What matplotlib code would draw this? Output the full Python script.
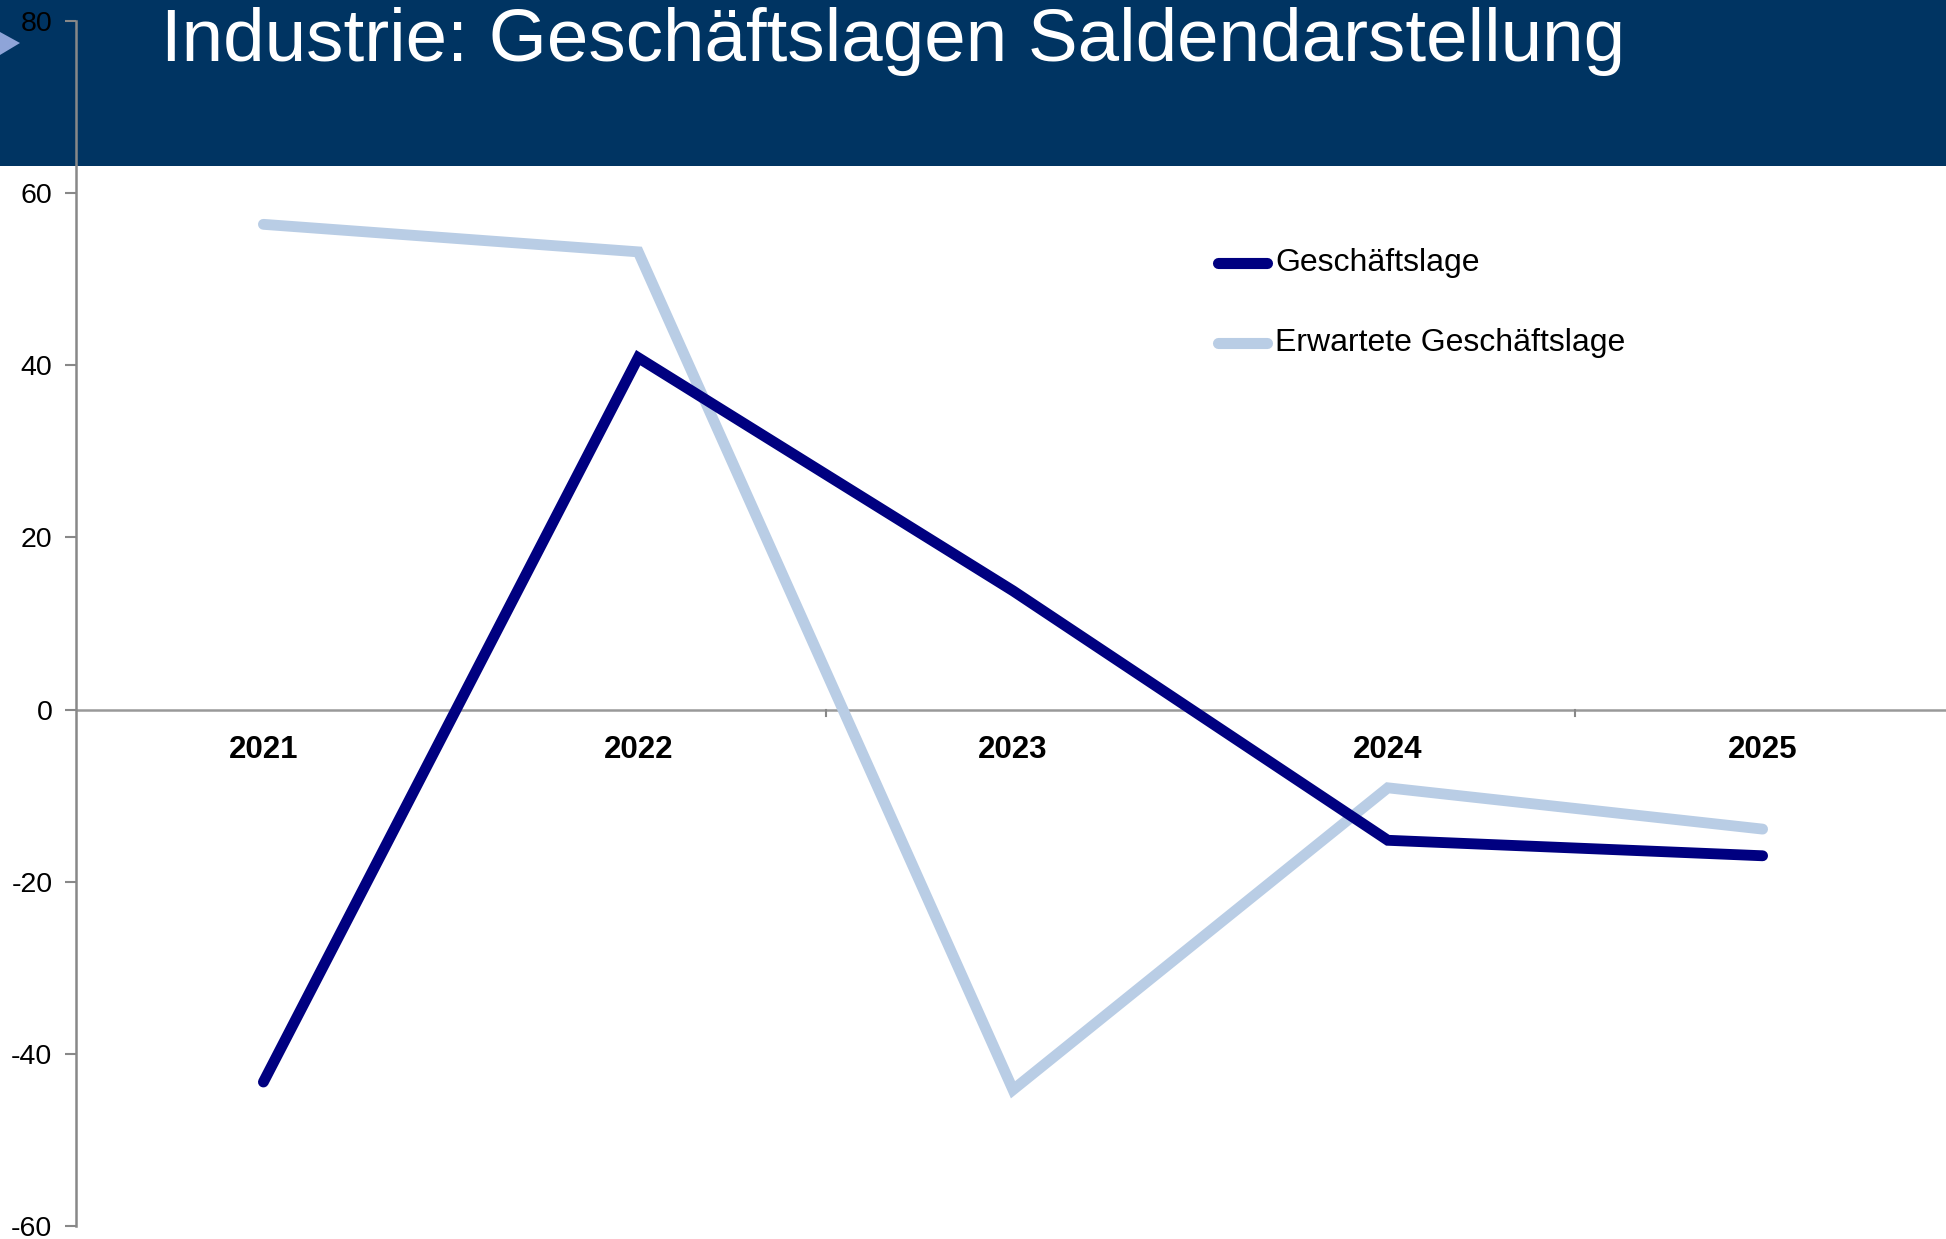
import matplotlib
matplotlib.use("Agg")
import matplotlib.pyplot as plt
from matplotlib.patches import Rectangle, Polygon
from matplotlib.lines import Line2D

plt.rcParams['font.family'] = ['Liberation Sans', 'DejaVu Sans']

title = "Industrie: Geschäftslagen Saldendarstellung"
years = ["2021", "2022", "2023", "2024", "2025"]
geschaeftslage = [-43.3, 40.9, 13.8, -15.2, -17.0]
erwartete = [56.4, 53.2, -44.2, -9.1, -13.9]
series_names = ["Geschäftslage", "Erwartete Geschäftslage"]
yticks = [-60, -40, -20, 0, 20, 40, 60, 80]

W, H, DPI = 1946, 1239, 100
fig = plt.figure(figsize=(W / DPI, H / DPI), dpi=DPI)
fig.patch.set_facecolor("white")

# Title bar
fig.patches.append(Rectangle((0, 1 - 166 / H), 1, 166 / H, transform=fig.transFigure,
                             facecolor="#003462", edgecolor="none", zorder=0))
fig.patches.append(Polygon([(0, 1 - 32 / H), (20 / W, 1 - 43 / H), (0, 1 - 55 / H)],
                           closed=True, transform=fig.transFigure,
                           facecolor="#8ea4d8", edgecolor="none", zorder=1))
fig.text(161 / W, 1 - 42 / H, title, color="white", fontsize=53.7, va="center", ha="left",
         zorder=2)

# Axes: x from 76 to 1950 px, y 80 -> 21.3 px, -60 -> 1225.7 px
left, right = 76 / W, 1950 / W
top, bottom = 1 - 21.3 / H, 1 - 1225.7 / H
ax = fig.add_axes([left, bottom, right - left, top - bottom])
ax.patch.set_alpha(0)
ax.set_zorder(3)

x = list(range(len(years)))
dark = "#000080"
light = "#b9cde5"
ax.plot(x, erwartete, color=light, lw=7.8, solid_capstyle="round", solid_joinstyle="miter",
        zorder=3)
ax.plot(x, geschaeftslage, color=dark, lw=7.8, solid_capstyle="round", solid_joinstyle="miter",
        zorder=4)

ax.set_xlim(-0.5, len(years) - 0.5)
ax.set_ylim(-60, 80)
ax.set_yticks(yticks)
ax.set_yticklabels([str(t) for t in yticks], fontsize=20.5)
ax.tick_params(axis="y", length=8, width=1.5, color="#888888", pad=9)

for s in ["top", "right", "bottom"]:
    ax.spines[s].set_visible(False)
ax.spines["left"].set_color("#888888")
ax.spines["left"].set_linewidth(1.8)
ax.axhline(0, color="#999999", lw=1.8, zorder=2)

ax.set_xticks([])
for i, yr in enumerate(years):
    ax.text(i, -4.7, yr, ha="center", va="center", fontsize=22.5,
            fontweight="bold", zorder=5)
# boundary ticks (every second category boundary)
for b in [1.5, 3.5]:
    ax.plot([b, b], [0, -0.7], color="#888888", lw=1.5, zorder=2, clip_on=False)

# Legend drawn manually in figure coordinates
for (name, col, yy) in [(series_names[0], dark, 263), (series_names[1], light, 343)]:
    fig.lines.append(Line2D([1218 / W, 1267 / W], [1 - yy / H, 1 - yy / H], lw=8,
                            color=col, solid_capstyle="round", transform=fig.transFigure))
    fig.text(1275 / W, 1 - yy / H, name, fontsize=23, va="center", ha="left")

fig.savefig("out.png", dpi=DPI)
